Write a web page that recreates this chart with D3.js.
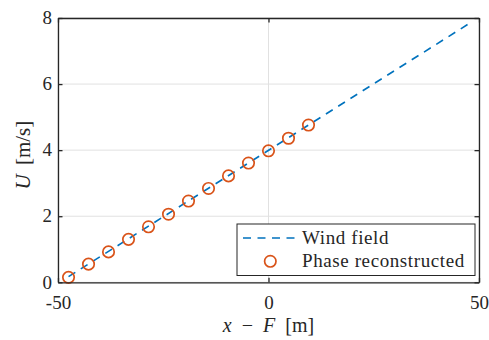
<!DOCTYPE html>
<html>
<head>
<meta charset="utf-8">
<script src="https://cdn.jsdelivr.net/npm/d3@7"></script>
<style>
  html, body { margin: 0; padding: 0; background: #fff; }
  svg { display: block; }
</style>
</head>
<body>
<svg id="chart" width="489" height="340"></svg>
<script>
// Wind field (dashed line) along the beam coordinate x - F
const windX = [-47.5, 47.5];
const windU = [0.17, 7.82];

// Phase-reconstructed wind speed samples
const phaseX = [-47.5, -42.75, -38, -33.25, -28.5, -23.75, -19, -14.25, -9.5, -4.75, 0, 4.75, 9.5];
const phaseU = [0.15, 0.55, 0.92, 1.30, 1.68, 2.06, 2.46, 2.84, 3.22, 3.61, 3.98, 4.36, 4.76];

// Axis ticks
const xTicks = [-50, 0, 50];
const xTickLabels = ["-50", "0", "50"];
const yTicks = [0, 2, 4, 6, 8];
const yTickLabels = ["0", "2", "4", "6", "8"];

const legendLabels = ["Wind field", "Phase reconstructed"];

const serif = "'Liberation Serif', 'Times New Roman', Times, serif";
const blue = "#0072BD", orange = "#D95319", axisColor = "#262626", gridColor = "#e1e1e1";
const plot = { left: 58, right: 479, top: 18, bottom: 282.3 };

const svg = d3.select("#chart").attr("font-family", serif);
const x = d3.scaleLinear().domain([-50, 50]).range([plot.left, plot.right]);
const y = d3.scaleLinear().domain([0, 8]).range([plot.bottom, plot.top]);

// grid lines
const grid = svg.append("g");
grid.selectAll(".gx").data(xTicks).join("line")
  .attr("x1", d => x(d)).attr("x2", d => x(d))
  .attr("y1", plot.top).attr("y2", plot.bottom)
  .attr("stroke", gridColor).attr("stroke-width", 1);
grid.selectAll(".gy").data(yTicks).join("line")
  .attr("x1", plot.left).attr("x2", plot.right)
  .attr("y1", d => y(d)).attr("y2", d => y(d))
  .attr("stroke", gridColor).attr("stroke-width", 1);

// wind field line
const windPts = windX.map((v, i) => [v, windU[i]]);
svg.append("path")
  .datum(windPts)
  .attr("d", d3.line().x(d => x(d[0])).y(d => y(d[1])))
  .attr("fill", "none").attr("stroke", blue)
  .attr("stroke-width", 1.6).attr("stroke-dasharray", "8,6.5");

// reconstructed markers
svg.append("g").selectAll("circle")
  .data(phaseX.map((v, i) => [v, phaseU[i]]))
  .join("circle")
  .attr("cx", d => x(d[0])).attr("cy", d => y(d[1]))
  .attr("r", 5.7)
  .attr("fill", "none").attr("stroke", orange).attr("stroke-width", 1.7);

// axes (box with inward ticks on all sides)
const tickLen = 4.5;
const fmtX = (d, i) => xTickLabels[i];
const fmtY = (d, i) => yTickLabels[i];

const axB = svg.append("g").attr("transform", `translate(0,${plot.bottom})`)
  .call(d3.axisBottom(x).tickValues(xTicks).tickFormat(fmtX).tickSizeInner(-tickLen).tickSizeOuter(0));
const axL = svg.append("g").attr("transform", `translate(${plot.left},0)`)
  .call(d3.axisLeft(y).tickValues(yTicks).tickFormat(fmtY).tickSizeInner(-tickLen).tickSizeOuter(0));
const axT = svg.append("g").attr("transform", `translate(0,${plot.top})`)
  .call(d3.axisTop(x).tickValues(xTicks).tickFormat("").tickSizeInner(-tickLen).tickSizeOuter(0));
const axR = svg.append("g").attr("transform", `translate(${plot.right},0)`)
  .call(d3.axisRight(y).tickValues(yTicks).tickFormat("").tickSizeInner(-tickLen).tickSizeOuter(0));

[axB, axL, axT, axR].forEach(g => {
  g.attr("font-family", serif).attr("font-size", 19);
  g.select(".domain").attr("stroke", axisColor).attr("stroke-width", 1.3);
  g.selectAll(".tick line").attr("stroke", axisColor).attr("stroke-width", 1.3);
  g.selectAll(".tick text").attr("fill", axisColor);
});
// x tick labels: baseline placed below the axis; y tick labels right-aligned left of it
axB.selectAll(".tick text").attr("dy", null).attr("y", 26.9);
axL.selectAll(".tick text").attr("x", -6).attr("dy", "0.3em");

// axis titles
const xl = svg.append("text")
  .attr("x", x(0)).attr("y", 331.5)
  .attr("text-anchor", "middle")
  .attr("font-family", serif).attr("font-size", 20).attr("fill", axisColor)
  .attr("word-spacing", 5);
xl.append("tspan").attr("font-style", "italic").text("x");
xl.append("tspan").text(" − ");
xl.append("tspan").attr("font-style", "italic").text("F");
xl.append("tspan").text(" [m]");

const yl = svg.append("text")
  .attr("transform", `translate(30,${(plot.top + plot.bottom) / 2 + 5}) rotate(-90)`)
  .attr("text-anchor", "middle")
  .attr("font-family", serif).attr("font-size", 21).attr("fill", axisColor)
  .attr("word-spacing", 4);
yl.append("tspan").attr("font-style", "italic").text("U");
yl.append("tspan").text(" [m/s]");

// legend
const lg = svg.append("g");
lg.append("rect")
  .attr("x", 237).attr("y", 224).attr("width", 238).attr("height", 51.5)
  .attr("fill", "#fff").attr("stroke", axisColor).attr("stroke-width", 1);
lg.append("line")
  .attr("x1", 243).attr("x2", 295).attr("y1", 238).attr("y2", 238)
  .attr("stroke", blue).attr("stroke-width", 1.6).attr("stroke-dasharray", "8,6.5");
lg.append("circle")
  .attr("cx", 270.3).attr("cy", 261.3).attr("r", 5.7)
  .attr("fill", "none").attr("stroke", orange).attr("stroke-width", 1.7);
lg.selectAll("text.lbl").data(legendLabels).join("text")
  .attr("class", "lbl")
  .attr("x", 302).attr("y", (d, i) => 244 + i * 23)
  .attr("font-family", serif).attr("font-size", 19).attr("fill", axisColor)
  .style("letter-spacing", "0.6px")
  .text(d => d);
</script>
</body>
</html>
